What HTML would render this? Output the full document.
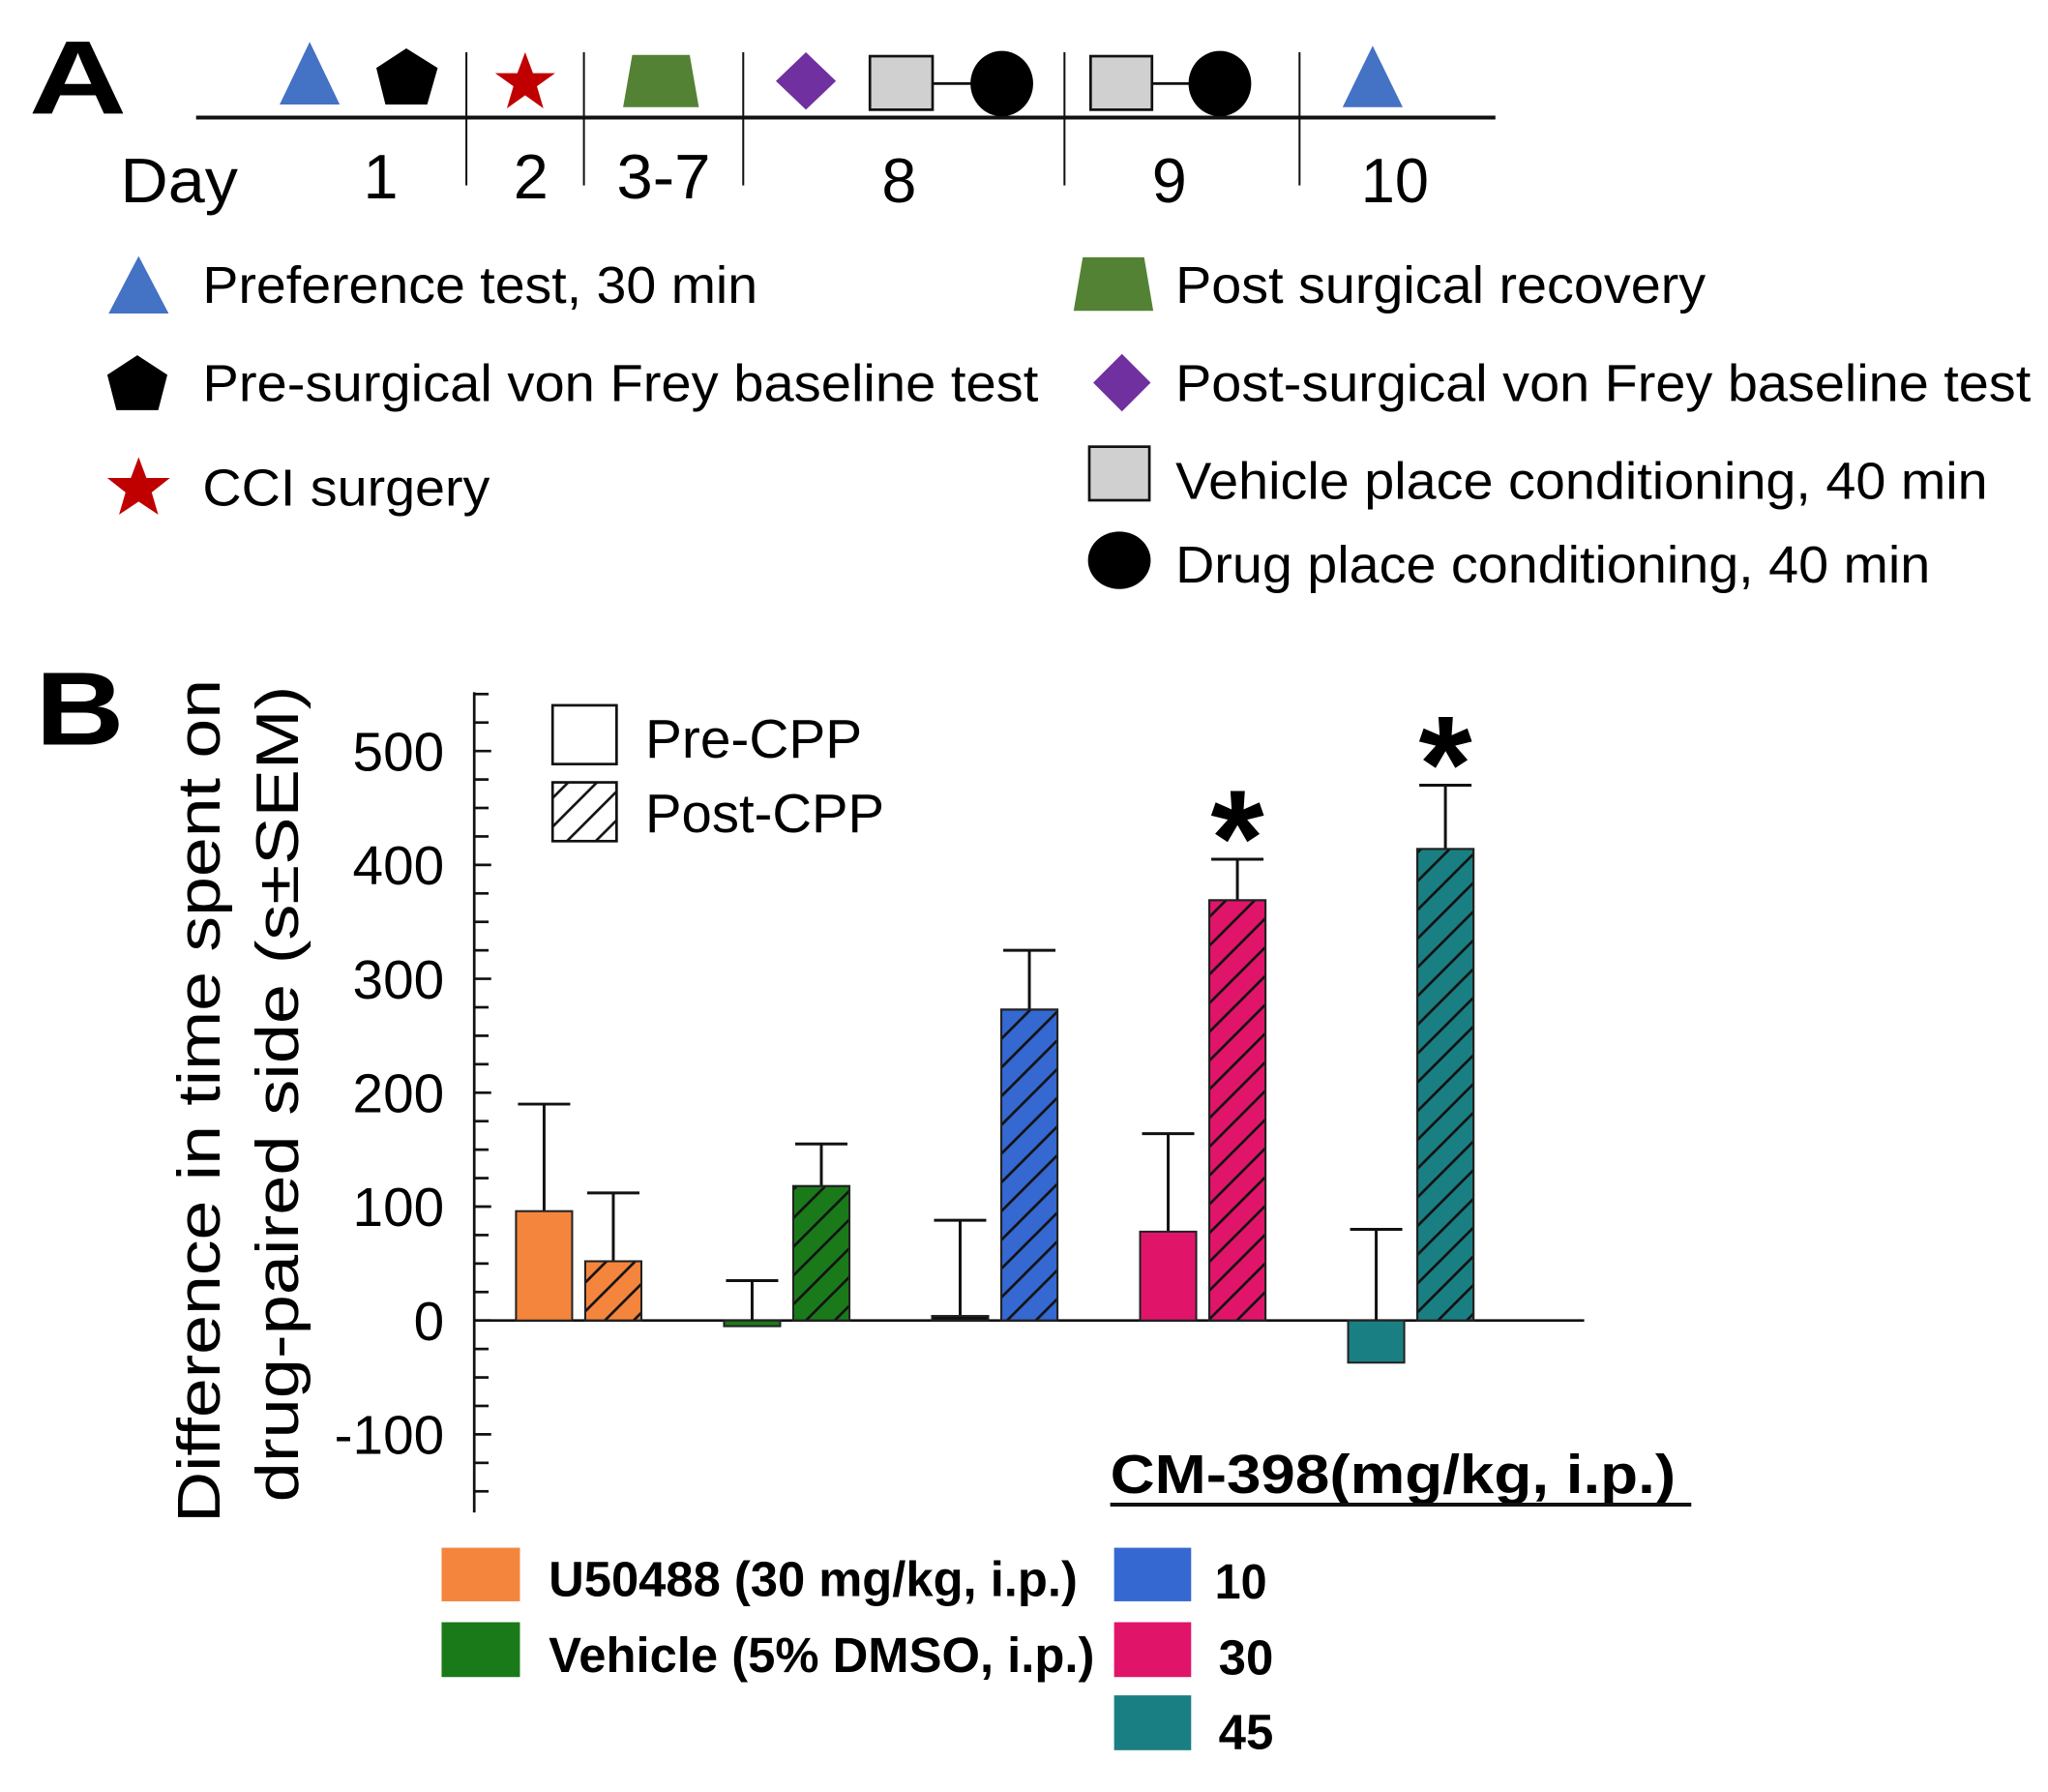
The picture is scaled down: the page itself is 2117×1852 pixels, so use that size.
<!DOCTYPE html>
<html><head><meta charset="utf-8"><style>
html,body{margin:0;padding:0;background:#fff;}
svg{display:block;font-family:"Liberation Sans",Arial,sans-serif;}
</style></head><body>
<svg id="fig" width="2117" height="1852" viewBox="0 0 1568 1372">
<defs>
<pattern id="hatch" patternUnits="userSpaceOnUse" width="22" height="22">
<path d="M-2,24 L24,-2 M-13,13 L13,-13 M9,35 L35,9" stroke="#111" stroke-width="2"/>
</pattern>
</defs>
<!-- Panel A -->
<g>
<text x="22" y="87" font-size="80" font-weight="bold" textLength="75" lengthAdjust="spacingAndGlyphs">A</text>
<line x1="150" y1="90" x2="1145" y2="90" stroke="#111" stroke-width="3"/>
<g stroke="#111" stroke-width="1.5">
<line x1="357" y1="40" x2="357" y2="142"/><line x1="447" y1="40" x2="447" y2="142"/>
<line x1="569" y1="40" x2="569" y2="142"/><line x1="815" y1="40" x2="815" y2="142"/>
<line x1="995" y1="40" x2="995" y2="142"/>
</g>
<g font-size="48">
<text x="92" y="155" textLength="90" lengthAdjust="spacingAndGlyphs">Day</text><text x="278" y="152">1</text><text x="393" y="152">2</text>
<text x="472" y="152" textLength="72" lengthAdjust="spacingAndGlyphs">3-7</text><text x="675" y="155">8</text><text x="882" y="155">9</text><text x="1042" y="155" textLength="52" lengthAdjust="spacingAndGlyphs">10</text>
</g>
<polygon points="237,32 214,80 260,80" fill="#4472c4"/>
<polygon points="311,37 335,52 327,80 295,80 288,52" fill="#000"/>
<polygon points="402,40 408,56 425,56 411,66 416,83 402,73 388,83 393,66 379,56 396,56" fill="#c00000"/>
<polygon points="484,42 528,42 535,82 477,82" fill="#548235"/>
<polygon points="617,40 640,62 617,84 594,62" fill="#7030a0"/>
<line x1="714" y1="64" x2="745" y2="64" stroke="#111" stroke-width="2"/>
<rect x="666" y="43" width="48" height="41" fill="#d0d0d0" stroke="#111" stroke-width="2"/>
<ellipse cx="767" cy="64" rx="24" ry="25" fill="#000"/>
<line x1="882" y1="64" x2="912" y2="64" stroke="#111" stroke-width="2"/>
<rect x="835" y="43" width="47" height="41" fill="#d0d0d0" stroke="#111" stroke-width="2"/>
<ellipse cx="934" cy="64" rx="24" ry="25" fill="#000"/>
<polygon points="1051,35 1028,82 1074,82" fill="#4472c4"/>
<g font-size="40">
<polygon points="106,196 83,240 129,240" fill="#4472c4"/>
<text x="155" y="232" textLength="425" lengthAdjust="spacingAndGlyphs">Preference test, 30 min</text>
<polygon points="105,272 128,287 121,314 89,314 82,287" fill="#000"/>
<text x="155" y="307" textLength="640" lengthAdjust="spacingAndGlyphs">Pre-surgical von Frey baseline test</text>
<polygon points="106,350 112,366 130,366 116,377 121,394 106,384 91,394 96,377 82,366 100,366" fill="#c00000"/>
<text x="155" y="387" textLength="220" lengthAdjust="spacingAndGlyphs">CCI surgery</text>
<polygon points="829,197 876,197 883,238 822,238" fill="#548235"/>
<text x="900" y="232" textLength="406" lengthAdjust="spacingAndGlyphs">Post surgical recovery</text>
<polygon points="859,271 881,293 859,315 837,293" fill="#7030a0"/>
<text x="900" y="307" textLength="655" lengthAdjust="spacingAndGlyphs">Post-surgical von Frey baseline test</text>
<rect x="834" y="342" width="46" height="41" fill="#d0d0d0" stroke="#111" stroke-width="2"/>
<text x="900" y="382" textLength="622" lengthAdjust="spacingAndGlyphs">Vehicle place conditioning, 40 min</text>
<ellipse cx="857" cy="429" rx="24" ry="22" fill="#000"/>
<text x="900" y="446" textLength="578" lengthAdjust="spacingAndGlyphs">Drug place conditioning, 40 min</text>
</g>
</g>
<!-- Panel B -->
<g id="panelB">
<text x="27" y="570" font-size="80" font-weight="bold" textLength="68" lengthAdjust="spacingAndGlyphs">B</text>
<g font-size="46">
<text transform="translate(168,1166) rotate(-90)" textLength="646" lengthAdjust="spacingAndGlyphs">Difference in time spent on</text>
<text transform="translate(228,1150) rotate(-90)" textLength="625" lengthAdjust="spacingAndGlyphs">drug-paired side (s±SEM)</text>
</g>
<rect x="423" y="540" width="49" height="45" fill="#fff" stroke="#111" stroke-width="2"/>
<text x="494" y="580" font-size="42" textLength="166" lengthAdjust="spacingAndGlyphs">Pre-CPP</text>
<rect x="423" y="599" width="49" height="45" fill="url(#hatch)" stroke="#111" stroke-width="2"/>
<text x="494" y="637" font-size="42" textLength="183" lengthAdjust="spacingAndGlyphs">Post-CPP</text>
<text x="850" y="1143" font-size="42" font-weight="bold" textLength="433" lengthAdjust="spacingAndGlyphs">CM-398(mg/kg, i.p.)</text>
<line x1="850" y1="1152" x2="1295" y2="1152" stroke="#111" stroke-width="3"/>
<g font-size="38" font-weight="bold">
<rect x="338" y="1185" width="60" height="41" fill="#f4853d"/>
<text x="420" y="1222" textLength="405" lengthAdjust="spacingAndGlyphs">U50488 (30 mg/kg, i.p.)</text>
<rect x="338" y="1242" width="60" height="42" fill="#1a7a1a"/>
<text x="420" y="1280" textLength="418" lengthAdjust="spacingAndGlyphs">Vehicle (5% DMSO, i.p.)</text>
<rect x="853" y="1185" width="59" height="41" fill="#3568d0"/>
<text x="930" y="1224" textLength="40" lengthAdjust="spacingAndGlyphs">10</text>
<rect x="853" y="1242" width="59" height="42" fill="#e0156a"/>
<text x="933" y="1282" textLength="42" lengthAdjust="spacingAndGlyphs">30</text>
<rect x="853" y="1298" width="59" height="42" fill="#1a7f82"/>
<text x="933" y="1339" textLength="42" lengthAdjust="spacingAndGlyphs">45</text>
</g>
</g>
<script>
const groups = ['U50488', 'Vehicle', 'CM-398 10', 'CM-398 30', 'CM-398 45'];
const preValues = [96, -5, 4, 78, -37];
const preErrors = [94, 35, 84, 86, 80];
const postValues = [52, 118, 273, 369, 414];
const postErrors = [60, 37, 52, 36, 56];
const groupColors = ['#f4853d', '#1a7a1a', '#3568d0', '#e0156a', '#1a7f82'];
const preColors = ['#f4853d', '#1a7a1a', '#111', '#e0156a', '#1a7f82'];
const significant = [false, false, false, true, true];
const tickLabels = [-100, 0, 100, 200, 300, 400, 500];

const NS = 'http://www.w3.org/2000/svg';
const g = document.getElementById('panelB');
const y0 = 1011, pxPer = 0.872;
function yScale(v){ return y0 - v * pxPer; }
const axX = 363;
function xPre(i){ return 395 + i * 159.3; }
function mk(tag, attrs){ const e = document.createElementNS(NS, tag); for (const k in attrs) e.setAttribute(k, attrs[k]); g.appendChild(e); return e; }

const yAxis = mk('line', {x1: axX, y1: 530, x2: axX, y2: 1158, stroke: '#111', 'stroke-width': 2});


for (let v = -150; v <= 550; v += 25) {
  const len = (v % 100 === 0) ? 13 : 11;
  const t = mk('line', {x1: axX, y1: yScale(v), x2: axX + len, y2: yScale(v), stroke: '#111', 'stroke-width': 2});
  
  
}
tickLabels.forEach(v => {
  const t = mk('text', {x: 340, y: yScale(v) + 15, 'font-size': 42, 'text-anchor': 'end'});
  t.textContent = v;
  
  
});
const xAxis = mk('line', {x1: axX, y1: y0, x2: 1213, y2: y0, stroke: '#111', 'stroke-width': 2});



const bw = 43;
function bar(x, v, err, fill, hatch, name){
  const top = Math.min(yScale(v), y0), h = Math.max(Math.abs(yScale(v) - y0), 3);
  const cx = x + bw / 2;
  const ey = yScale(Math.max(v, 0) + err);
  const e1 = mk('line', {x1: cx, y1: ey, x2: cx, y2: yScale(Math.max(v,0)), stroke: '#111', 'stroke-width': 2.2});
  
  
  const e2 = mk('line', {x1: cx - 20, y1: ey, x2: cx + 20, y2: ey, stroke: '#111', 'stroke-width': 2.2});
  
  
  const r = mk('rect', {x: x, y: top, width: bw, height: h, fill: fill, stroke: '#222', 'stroke-width': 1.5});
  
  
  if (hatch) {
    const hr = mk('rect', {x: x, y: top, width: bw, height: h, fill: 'url(#hatch)', stroke: '#222', 'stroke-width': 1.5});
    
    
  }
}
groups.forEach((grp, i) => {
  const xp = xPre(i);
  bar(xp, preValues[i], preErrors[i], preColors[i], false, 'bar-pre-' + i);
  bar(xp + 53, postValues[i], postErrors[i], groupColors[i], true, 'bar-post-' + i);
  if (significant[i]) {
    const s = mk('text', {x: xp + 53 + bw / 2, y: yScale(postValues[i] + postErrors[i]) + 20, 'font-size': 105, 'font-weight': 'bold', 'text-anchor': 'middle'});
    s.textContent = '*';
    
    
  }
});
</script>
</svg>
</body></html>
